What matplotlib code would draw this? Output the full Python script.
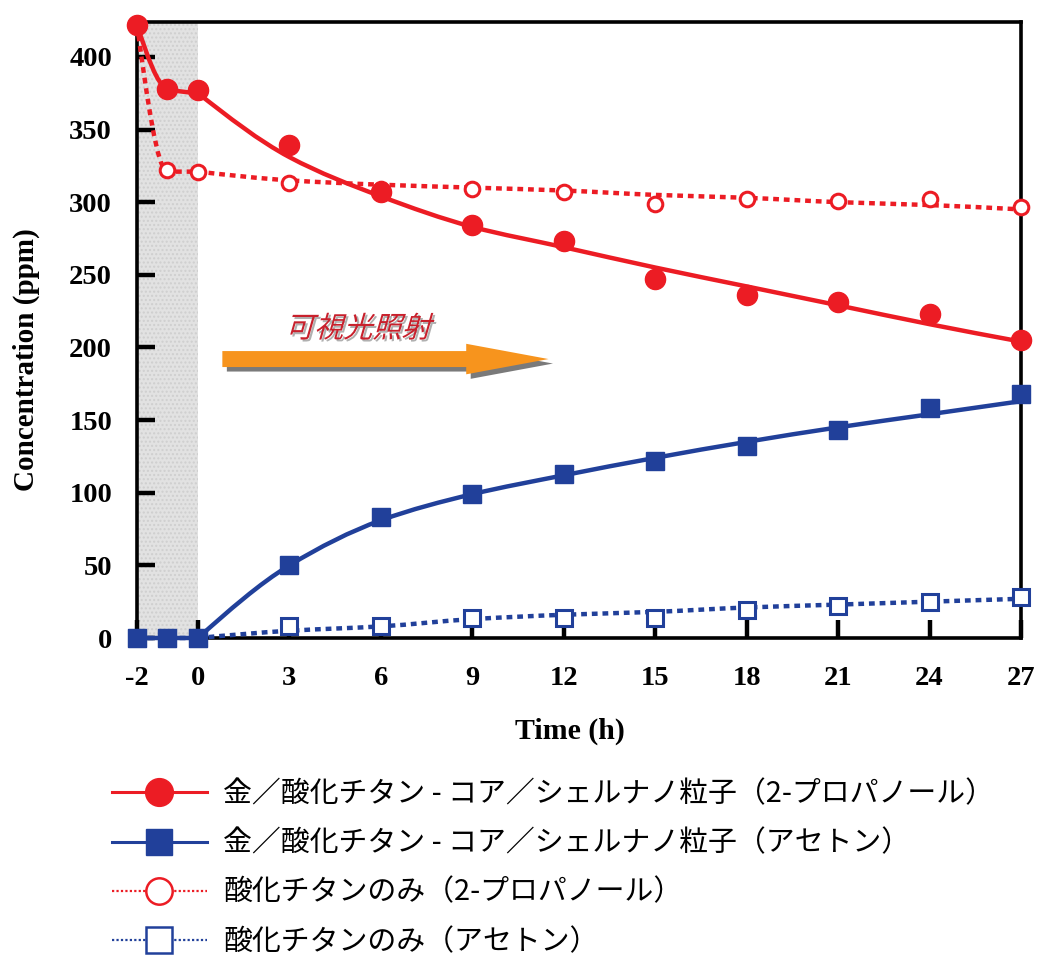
import numpy as np
import matplotlib
matplotlib.use("Agg")
import matplotlib.pyplot as plt
from matplotlib.path import Path
from matplotlib.patches import PathPatch, FancyArrow, Rectangle
from matplotlib.textpath import TextPath
from matplotlib.font_manager import FontProperties
from matplotlib.lines import Line2D
import matplotlib.transforms as mtransforms

plt.rcParams["axes.unicode_minus"] = False

# ---- data -------------------------------------------------------------
time_h = [-2, -1, 0, 3, 6, 9, 12, 15, 18, 21, 24, 27]

# measured points
core_shell_ipa = [422, 378, 377, 339, 307, 284, 273, 247, 236, 231, 223, 205]
core_shell_acetone = [0, 0, 0, 50, 83, 99, 113, 122, 132, 143, 158, 168]
tio2_ipa = [422, 322, 321, 313, 309, 309, 307, 299, 302, 301, 302, 297]
tio2_acetone = [0, 0, 0, 8, 8, 14, 14, 14, 19, 22, 25, 28]

# trend curves: dark period (-2..0) and irradiation period (0..27)
trend_time_dark = [-2, -1, 0]
trend_time_light = [0, 3, 6, 9, 12, 15, 18, 21, 24, 27]
trend_core_shell_ipa_dark = [422, 378, 375]
trend_core_shell_ipa_light = [375, 331, 304, 283, 269, 255, 242, 229, 216, 204]
trend_tio2_ipa_dark = [422, 321, 321]
trend_tio2_ipa_light = [321, 315, 312, 310, 308, 305, 303, 300, 298, 295]
trend_core_shell_acetone_dark = [0, 0, 0]
trend_core_shell_acetone_light = [0, 50, 81, 99, 112, 124, 135, 145, 154, 163]
trend_tio2_acetone_dark = [0, 0, 0]
trend_tio2_acetone_light = [0, 5, 8, 13, 16, 18, 21, 23, 25, 27]

x_ticks = [-2, 0, 3, 6, 9, 12, 15, 18, 21, 24, 27]
y_ticks = [0, 50, 100, 150, 200, 250, 300, 350, 400]

legend_labels = [
    "金／酸化チタン - コア／シェルナノ粒子（2-プロパノール）",
    "金／酸化チタン - コア／シェルナノ粒子（アセトン）",
    "酸化チタンのみ（2-プロパノール）",
    "酸化チタンのみ（アセトン）",
]
arrow_label = "可視光照射"

RED = "#ec1c24"
BLUE = "#21409a"
ORANGE = "#f7941d"

SERIF = ["Liberation Serif", "DejaVu Serif"]
JP = ["Noto Sans CJK JP", "DejaVu Sans"]


def smooth_path(x, y):
    """Monotone cubic Bezier path through the given points."""
    x = np.asarray(x, float)
    y = np.asarray(y, float)
    h = np.diff(x)
    d = np.diff(y) / h
    m = np.zeros_like(y)
    for i in range(1, len(x) - 1):
        if d[i - 1] * d[i] <= 0:
            m[i] = 0.0
        else:
            w1 = 2 * h[i] + h[i - 1]
            w2 = h[i] + 2 * h[i - 1]
            m[i] = (w1 + w2) / (w1 / d[i - 1] + w2 / d[i])
    if len(x) > 2:
        m[0] = (3 * d[0] - m[1]) / 2
        m[-1] = (3 * d[-1] - m[-2]) / 2
    else:
        m[0] = m[-1] = d[0]
    verts = [(x[0], y[0])]
    codes = [Path.MOVETO]
    for i in range(len(x) - 1):
        verts += [(x[i] + h[i] / 3, y[i] + m[i] * h[i] / 3),
                  (x[i + 1] - h[i] / 3, y[i + 1] - m[i + 1] * h[i] / 3),
                  (x[i + 1], y[i + 1])]
        codes += [Path.CURVE4] * 3
    return Path(verts, codes)


fig = plt.figure(figsize=(10.38, 9.57), dpi=100)
ax = fig.add_axes([137 / 1038, 1 - 638 / 957, (1021 - 137) / 1038, (638 - 22) / 957])
ax.set_xlim(-2, 27)
ax.set_ylim(0, 424)

# dark-adsorption period
ax.add_patch(Rectangle((-2, 0), 2, 424, facecolor="#e2e2e2", edgecolor="#cfcfcf",
                       hatch="....", linewidth=0, zorder=0))

dot_style = (0, (1.3, 1.1))

# trend curves
for xs, ys, col, ls in [
    (trend_time_dark, trend_core_shell_ipa_dark, RED, "-"),
    (trend_time_light, trend_core_shell_ipa_light, RED, "-"),
    (trend_time_dark, trend_tio2_ipa_dark, RED, dot_style),
    (trend_time_light, trend_tio2_ipa_light, RED, dot_style),
    (trend_time_dark, trend_core_shell_acetone_dark, BLUE, "-"),
    (trend_time_light, trend_core_shell_acetone_light, BLUE, "-"),
    (trend_time_dark, trend_tio2_acetone_dark, BLUE, dot_style),
    (trend_time_light, trend_tio2_acetone_light, BLUE, dot_style),
]:
    ax.add_patch(PathPatch(smooth_path(xs, ys), facecolor="none", edgecolor=col,
                           linewidth=3.2, linestyle=ls, capstyle="butt", zorder=3,
                           clip_on=False))

# measured points
ax.plot(time_h, tio2_ipa, "o", ms=10.5, mfc="white", mec=RED, mew=2.2, zorder=4, clip_on=False)
ax.plot(time_h, tio2_acetone, "s", ms=11, mfc="white", mec=BLUE, mew=2.2, zorder=4, clip_on=False)
ax.plot(time_h, core_shell_ipa, "o", ms=14.5, color=RED, zorder=5, clip_on=False)
ax.plot(time_h, core_shell_acetone, "s", ms=13.5, color=BLUE, zorder=5, clip_on=False)

# axes styling
for s in ax.spines.values():
    s.set_linewidth(2.6)
    s.set_color("black")
ax.set_xticks(x_ticks)
ax.set_yticks(y_ticks)
ax.tick_params(axis="both", direction="in", length=13, width=3.2, color="black",
               labelsize=20.5, top=False, right=False)
ax.tick_params(axis="x", pad=20.5)
ax.tick_params(axis="y", pad=18)
for lab in ax.get_xticklabels() + ax.get_yticklabels():
    lab.set_fontfamily(SERIF)
    lab.set_fontweight("bold")

ax.set_xlabel("Time (h)", fontsize=21.5, fontweight="bold", family=SERIF)
ax.set_ylabel("Concentration (ppm)", fontsize=21, fontweight="bold", family=SERIF)
ax.xaxis.set_label_coords((570 - 137) / 884, -(718 - 638) / 616)
ax.yaxis.set_label_coords((40 - 137) / 884, (638 - 360) / 616)

# irradiation arrow with drop shadow
shadow_off = mtransforms.offset_copy(ax.transData, fig=fig, x=4.5, y=-4.5, units="dots")
arrow_kw = dict(width=11, head_width=21, head_length=2.7, length_includes_head=True, linewidth=0)
ax.add_patch(FancyArrow(0.8, 192, 10.7, 0, transform=shadow_off, facecolor="#7a7a7a",
                        zorder=2, **arrow_kw))
ax.add_patch(FancyArrow(0.8, 192, 10.7, 0, facecolor=ORANGE, zorder=2.1, **arrow_kw))

# italic label above the arrow
fp = FontProperties(family="Noto Sans CJK JP")
tp = TextPath((0, 0), arrow_label, size=21, prop=fp)
xd, yd = ax.transData.transform((2.85, 207))
for dx, dy, col, z in [(2, -2, "#b0b0b0", 2.2), (0, 0, "#c8202c", 2.3)]:
    tr = mtransforms.Affine2D().skew_deg(16, 0).scale(fig.dpi / 72).translate(xd + dx, yd + dy)
    fig.add_artist(PathPatch(tp, transform=tr, facecolor=col, edgecolor="none", zorder=z))

# legend
handles = [
    Line2D([], [], color=RED, lw=2.2, marker="o", ms=20, mfc=RED, mec=RED),
    Line2D([], [], color=BLUE, lw=2.2, marker="s", ms=19, mfc=BLUE, mec=BLUE),
    Line2D([], [], color=RED, lw=1.6, ls=(0, (1, 1)), marker="o", ms=19, mfc="white", mec=RED, mew=1.8),
    Line2D([], [], color=BLUE, lw=1.6, ls=(0, (1, 1)), marker="s", ms=19, mfc="white", mec=BLUE, mew=1.8),
]
leg = fig.legend(handles, legend_labels, loc="upper left", bbox_to_anchor=(100 / 1038, 1 - 768 / 957),
                 frameon=False, prop=FontProperties(family=JP, size=20.8), handlelength=3.3,
                 handletextpad=0.57, labelspacing=0.66, borderaxespad=0)

fig.savefig("out.png", dpi=100)
